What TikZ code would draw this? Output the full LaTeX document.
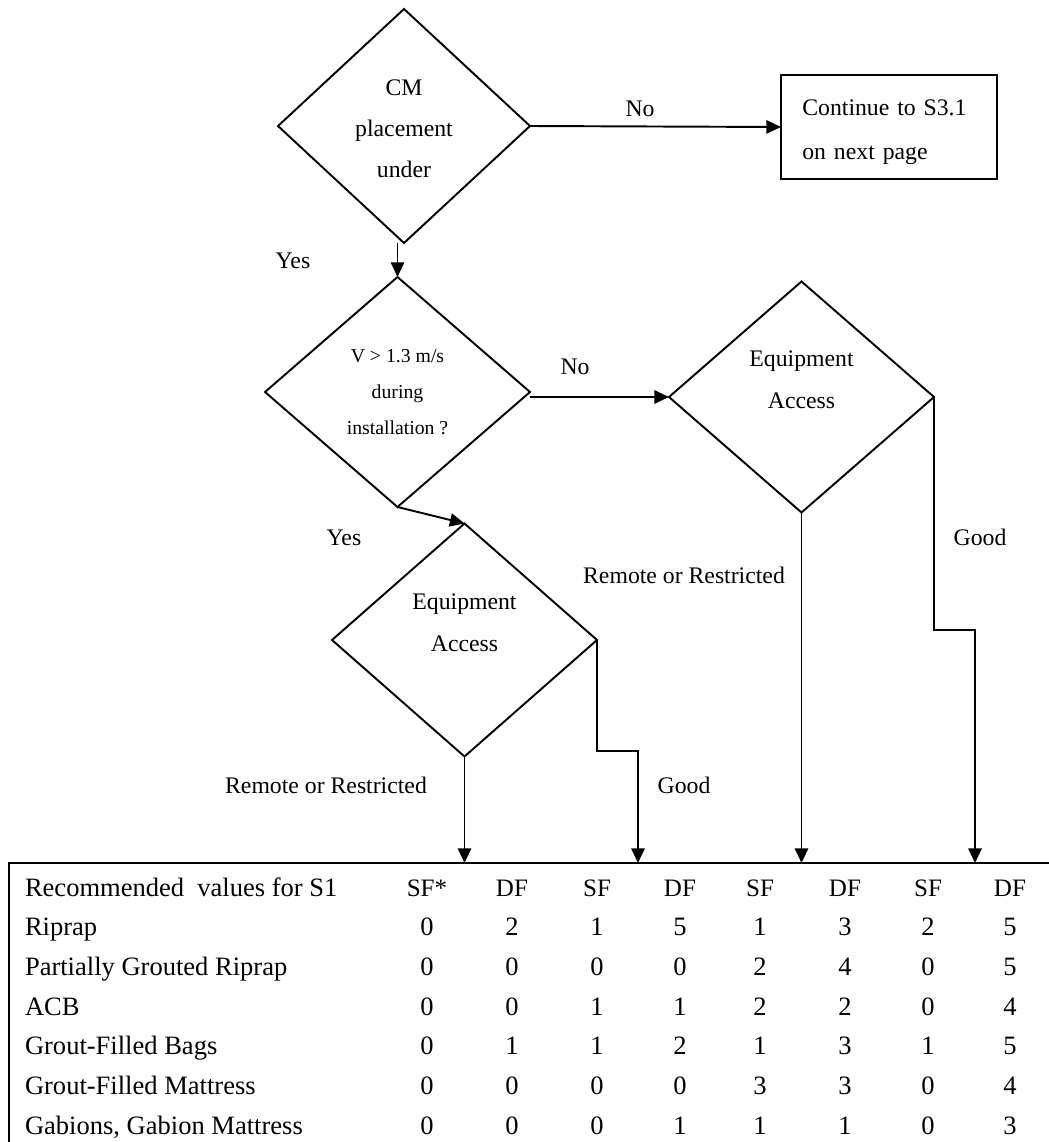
\documentclass[tikz,border=0pt]{standalone}
\usepackage{fontspec}
\setmainfont{Liberation Serif}
\usetikzlibrary{shapes.geometric,arrows.meta}
\begin{document}
\begin{tikzpicture}[x=0.75pt,y=-0.75pt,
  line width=1.45pt,
  every node/.style={outer sep=0pt},
  dec/.style={draw,diamond,inner sep=0pt,align=center,font=\fontsize{17.8}{31}\selectfont},
  lbl/.style={anchor=base,font=\fontsize{17.8}{31}\selectfont,inner sep=0pt},
  cell/.style={anchor=base,font=\fontsize{19.9}{24}\selectfont,inner sep=0pt},
  hcell/.style={anchor=base,font=\fontsize{18.8}{24}\selectfont,inner sep=0pt},
  arr/.style={-{Triangle[length=11pt,width=10pt]}}]
\useasboundingbox (0,0) rectangle (1049,1142);

% decisions
\node[dec,minimum width=189pt,minimum height=175.5pt] (d1) at (404,126) {\rule{0pt}{16pt}CM\\placement\\under};
\node[dec,minimum width=198.75pt,minimum height=172.5pt,font=\fontsize{14.8}{27}\selectfont] (d2) at (397.5,392) {V > 1.3 m/s\\during\\installation ?};
\node[dec,minimum width=198.75pt,minimum height=174.75pt] (d3) at (464.5,640) {Equipment\\Access\\[-5pt]\mbox{}};
\node[dec,minimum width=198.75pt,minimum height=173.25pt] (d4) at (801.5,397) {Equipment\\Access\\[-5pt]\mbox{}};
\node[draw,rectangle,minimum width=162pt,minimum height=78pt,text width=130pt,align=left,inner xsep=15.75pt,font=\fontsize{17.8}{33}\selectfont] (box) at (889,127) {\rule{0pt}{20pt}Continue to S3.1\\on next page};

% table frame
\coordinate (ttl) at (9,863);
\coordinate (ttr) at (1049,863);
\coordinate (tbl) at (9,1142);
\draw[line width=2pt] (ttr) -- (ttl) -- (tbl);

% connectors
\coordinate (g1) at (638,751);
\coordinate (g2) at (975,630);
\draw[arr] (d1.east) -- (box.west);
\draw[arr] (d2.north |- d1.south) -- (d2.north);
\draw[arr] (d2.east |- d4.west) -- (d4.west);
\draw[arr] (d2.south) -- (d3.north);
\draw[arr] (d3.south) -- (d3.south |- ttl);
\draw[arr] (d3.east) |- (g1) -- (g1 |- ttl);
\draw[arr] (d4.south) -- (d4.south |- ttl);
\draw[arr] (d4.east) |- (g2) -- (g2 |- ttl);

% labels
\node[lbl] (lno1) at (640,116) {No};
\node[lbl] (lyes1) at (293,268) {Yes};
\node[lbl] (lno2) at (575,374) {No};
\node[lbl] (lyes2) at (344,545) {Yes};
\node[lbl] (lrr1) at (326,793) {Remote or Restricted};
\node[lbl] (lgood1) at (684,793) {Good};
\node[lbl] (lrr2) at (684,583) {Remote or Restricted};
\node[lbl] (lgood2) at (980,545) {Good};

% table header
\node[cell,anchor=base west] (r0-c0) at (25,896) {Recommended\ \ values for S1};
\foreach \t [count=\c] in {SF*,DF,SF,DF,SF,DF,SF,DF}
{
  \pgfmathsetmacro\xx{{0,427,512,597,680,760,845,928,1010}[\c]}
  \node[hcell] (r0-c\c) at (\xx,896) {\t};
}

% table contents
\foreach \r/\lab/\ca/\cb/\cc/\cd/\ce/\cf/\cg/\ch in {
  1/Riprap/0/2/1/5/1/3/2/5,
  2/Partially Grouted Riprap/0/0/0/0/2/4/0/5,
  3/ACB/0/0/1/1/2/2/0/4,
  4/Grout-Filled Bags/0/1/1/2/1/3/1/5,
  5/Grout-Filled Mattress/0/0/0/0/3/3/0/4,
  6/{Gabions, Gabion Mattress}/0/0/0/1/1/1/0/3}
{
  \pgfmathsetmacro\yy{896+39.7*\r}
  \node[cell,anchor=base west] (r\r-c0) at (25,\yy) {\lab};
  \node[cell] (r\r-c1) at (427,\yy) {\ca};
  \node[cell] (r\r-c2) at (512,\yy) {\cb};
  \node[cell] (r\r-c3) at (597,\yy) {\cc};
  \node[cell] (r\r-c4) at (680,\yy) {\cd};
  \node[cell] (r\r-c5) at (760,\yy) {\ce};
  \node[cell] (r\r-c6) at (845,\yy) {\cf};
  \node[cell] (r\r-c7) at (928,\yy) {\cg};
  \node[cell] (r\r-c8) at (1010,\yy) {\ch};
}
\end{tikzpicture}
\end{document}
